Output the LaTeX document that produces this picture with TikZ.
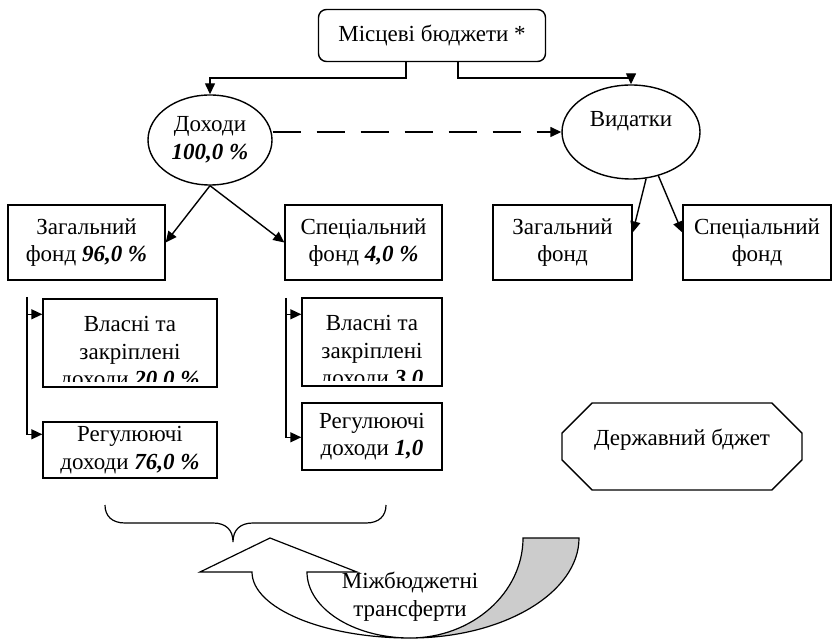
\documentclass[tikz,border=0pt]{standalone}
\usepackage{fontspec}
\setmainfont{Liberation Serif}
\usetikzlibrary{arrows.meta,calc,positioning,shapes.geometric,shapes.misc}

\tikzset{
  box/.style={draw, line width=0.7pt, align=center, inner sep=2pt},
  oval/.style={draw, ellipse, line width=0.7pt, align=center, inner sep=1pt},
  arr/.style={-{Triangle[length=5.5pt,width=5pt]}, line width=0.7pt},
  dasharr/.style={arr, dash pattern=on 14pt off 8pt},
}
\newcommand{\bipct}[1]{\textbf{\textit{#1}}}

\begin{document}
\begin{tikzpicture}[x=0.5pt, y=-0.5pt, every node/.style={font=\fontsize{11.5}{13.8}\selectfont}]
  \useasboundingbox (0,0) rectangle (833,640);
  % top level
  \node[box, rounded corners=4pt, minimum width=113.5pt, minimum height=26pt] (budg) at (432,35.5) {Місцеві бюджети *};
  \node[oval, minimum width=62pt, minimum height=45pt] (dohody) at (210,140) {Доходи\\\bipct{100,0 \%}};
  \node[oval, minimum width=69pt, minimum height=47pt, text height=8pt, text depth=13pt] (vydatky) at (631,132) {Видатки};
  \draw[arr] ([xshift=-13pt]budg.south) -- ++(0,-8pt) -| (dohody.north);
  \draw[arr] ([xshift=13pt]budg.south) -- ++(0,-8pt) -| (vydatky.north);
  \draw[dasharr] (dohody.east |- vydatky.west) -- (vydatky.west);
  % funds
  \node[box, minimum width=78.5pt, minimum height=37.5pt] (zagL) at (86.5,242.5) {Загальний\\фонд \bipct{96,0 \%}};
  \node[box, minimum width=78.5pt, minimum height=37.5pt] (specL) at (363.5,242.5) {Спеціальний\\фонд \bipct{4,0 \%}};
  \node[box, minimum width=69.5pt, minimum height=37.5pt] (zagR) at (562.5,242.5) {Загальний\\фонд};
  \node[box, minimum width=74pt, minimum height=37.5pt] (specR) at (757,242.5) {Спеціальний\\фонд};
  \draw[arr] (dohody.south) -- (zagL.east);
  \draw[arr] (dohody.south) -- (specL.west);
  \draw[arr] (vydatky.-72) -- ([yshift=5pt]zagR.east);
  \draw[arr] (vydatky.-58) -- ([yshift=5pt]specR.west);
  % revenues of the general fund
  \node[box, minimum width=87pt, minimum height=44pt] (vlasL) at (130,343) {};
  \begin{scope}
    \clip (vlasL.north west) rectangle ([yshift=3pt]vlasL.south east);
    \node[align=center] (vlasLtxt) at (130,354) {Власні та\\закріплені\\доходи \bipct{20,0 \%}};
  \end{scope}
  \node[box, minimum width=87pt, minimum height=28pt] (regL) at (130,450) {Регулюючі\\доходи \bipct{76,0 \%}};
  \coordinate (barL) at (27,297);
  \coordinate (inVL) at ([yshift=-8pt]vlasL.north west);
  \draw[arr] (barL) |- ([yshift=-6.5pt]regL.north west);
  \draw[arr] (barL |- inVL) -- (inVL);
  % revenues of the special fund
  \node[box, minimum width=70pt, minimum height=44pt] (vlasR) at (372,342) {};
  \begin{scope}
    \clip (vlasR.north west) rectangle ([yshift=3pt]vlasR.south east);
    \node[align=center] (vlasRtxt) at (372,353) {Власні та\\закріплені\\доходи \bipct{3,0}};
  \end{scope}
  \node[box, minimum width=70pt, minimum height=33.5pt] (regR) at (372,436.5) {Регулюючі\\доходи \bipct{1,0}};
  \coordinate (barR) at (286,298);
  \coordinate (inVR) at ([yshift=-8.5pt]vlasR.north west);
  \draw[arr] (barR) |- ([yshift=-17.5pt]regR.north west);
  \draw[arr] (barR |- inVR) -- (inVR);
  % state budget
  \node[draw, line width=0.7pt, chamfered rectangle, chamfered rectangle xsep=12pt, minimum width=120pt, minimum height=43.5pt, text height=8.5pt, text depth=10pt] (derzh) at (682,446.5) {Державний бджет};
  % brace
  \draw[line width=0.6pt] (105,505) .. controls (105,516) and (112,523) .. (125,523) -- (213,523)
    .. controls (226,523) and (233,530) .. (233,542) .. controls (233,530) and (240,523) .. (253,523)
    -- (366,523) .. controls (379,523) and (386,516) .. (386,505);
  % curved arrow
  \filldraw[fill=black!20, line width=0.6pt] (523,538) -- (579,538) .. controls (579,593) and (503,638) .. (410,638)
    .. controls (472,638) and (523,593) .. (523,538) -- cycle;
  \filldraw[fill=white, line width=0.6pt] (200,572) -- (270,538) -- (357,572) -- (307,572)
    .. controls (307,608) and (353,638) .. (410,638) .. controls (323,638) and (252,608) .. (252,572) -- cycle;
  \node[align=center] (transf) at (410,597) {Міжбюджетні\\трансферти};
\end{tikzpicture}
\end{document}
